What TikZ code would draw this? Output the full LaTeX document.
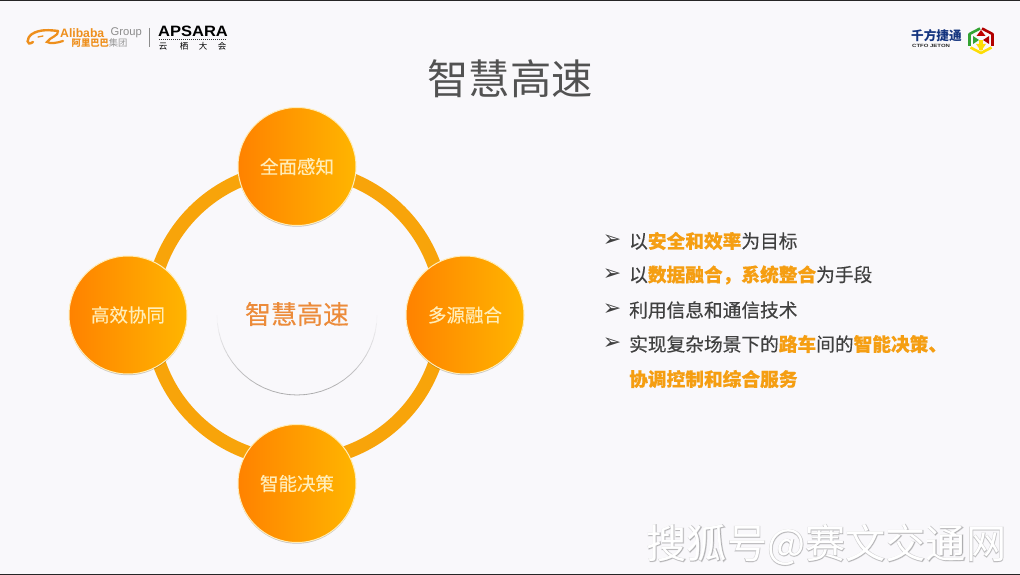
\documentclass[tikz,border=0pt]{standalone}
\usepackage{fontspec}
\setmainfont{Liberation Sans}
\newfontfamily\cjk{Noto Sans CJK SC}
\newfontfamily\cjkm[FakeBold=0.35]{Noto Sans CJK SC}
\newfontfamily\cjkhalo[FakeBold=3]{Noto Sans CJK SC}
\newfontfamily\djv{DejaVu Sans}
\usetikzlibrary{shadows}
\definecolor{bgc}{HTML}{F9F8FB}
\definecolor{ringc}{HTML}{F8A40A}
\definecolor{orangeL}{HTML}{FF8200}
\definecolor{orangeM}{HTML}{FF9C00}
\definecolor{orangeR}{HTML}{FFB500}
\definecolor{labc}{HTML}{FFEDB8}
\definecolor{hl}{HTML}{F59E12}
\definecolor{txt}{HTML}{404040}
\definecolor{navyc}{HTML}{15357F}
\definecolor{alic}{HTML}{EE8F1C}
\definecolor{centc}{HTML}{EC8B3A}
\newcommand{\hlt}[1]{\textcolor{hl}{\textbf{#1}}}
\tikzset{
  ball/.style={circle,minimum size=118pt,inner sep=0pt,left color=orangeL,middle color=orangeM,right color=orangeR,
    draw=labc,line width=1pt,text=labc,font=\cjkm\fontsize{18.5}{18.5}\selectfont,
    drop shadow={shadow xshift=0pt,shadow yshift=-1.2pt,fill=black,opacity=0.22}},
  item/.style={anchor=west,inner sep=0pt,text=txt,font=\cjkm\fontsize{18.7}{18.7}\selectfont},
  tick/.style={anchor=center,inner sep=0pt,text=txt,font=\djv\fontsize{22}{22}\selectfont},
  plain/.style={inner sep=0pt},
  wm/.style={inner sep=0pt}
}
\begin{document}
\begin{tikzpicture}[x=1pt,y=-1pt]
\useasboundingbox (0,0) rectangle (1020,575);
\fill[bgc] (0,0) rectangle (1020,575);
\fill[black!85] (0,0) rectangle (1020,1.5);
\fill[black!85] (0,573.5) rectangle (1020,575);
% Alibaba logo
\draw[alic,line width=2.4pt,line cap=round] (33,42) .. controls (26,47) and (26,38) .. (32,34) .. controls (40,29) and (50,30) .. (58,31);
\draw[alic,line width=2.2pt,line cap=round] (58,31) .. controls (59,36) and (50,37) .. (47,42) .. controls (50,44) and (57,43) .. (63,41);
\draw[alic,line width=1.3pt,line cap=round] (38,37) -- (43,36);
\node[plain,anchor=west,text=alic] (alibaba) at (60,33) {\fontsize{12.2}{12}\selectfont\textbf{Alibaba}};
\node[plain,anchor=west,text=black!45] (group) at (110.5,33) {\fontsize{11.2}{11}\selectfont Group};
\node[plain,anchor=west,text=alic] (alicn) at (71.5,43.5) {\cjk\fontsize{9.3}{10}\selectfont\textbf{阿里巴巴}\textcolor{black!40}{集团}};
\draw[black!45,line width=0.6pt] (149,28) -- (149,47);
\node[plain,anchor=west,text=black] (apsara) at (158,31.5) {\scalebox{1.1}[1]{\fontsize{15}{15}\selectfont\textbf{APSARA}}};
\draw[black!80,line width=0.7pt,dash pattern=on 1pt off 1pt] (159,39.5) -- (226,39.5);
\node[plain,text=black] (yun) at (163,46.5) {\cjk\fontsize{8.5}{9}\selectfont 云};
\node[plain,text=black] (qi) at (184,46.5) {\cjk\fontsize{8.5}{9}\selectfont 栖};
\node[plain,text=black] (da) at (203,46.5) {\cjk\fontsize{8.5}{9}\selectfont 大};
\node[plain,text=black] (hui) at (222,46.5) {\cjk\fontsize{8.5}{9}\selectfont 会};
% CTFO logo
\node[plain,anchor=west,text=navyc] (qf) at (911,36) {\cjk\fontsize{12.6}{13}\selectfont\textbf{千方捷通}};
\node[plain,anchor=west,text=black!85] (ctfo) at (912,45.5) {\scalebox{1.3}[1]{\fontsize{4.6}{5}\selectfont\textbf{CTFO JETON}}};
\draw[green!55!black!80,line width=2.6pt,line join=round] (980,28.5) -- (969.5,34) -- (969.5,46);
\draw[red!70!black,line width=2.6pt,line join=round] (982,28.5) -- (992.5,34) -- (992.5,46);
\draw[yellow!80!orange,line width=2.6pt,line join=round] (970.5,47.5) -- (981,53) -- (991.5,47.5);
\fill[red!75!black] (976.5,36) -- (985.5,36) -- (981,30) -- cycle;
\fill[yellow!80!orange] (979,40) rectangle (983,50);
\fill[yellow!80!orange] (976,44) -- (986,44) -- (981,51) -- cycle;
\fill[green!55!black!80] (973,36) -- (979,40) -- (973,44) -- cycle;
\fill[red!70!black] (989,36) -- (983,40) -- (989,44) -- cycle;
% title
\node[plain,text=black!68] (title) at (510,79) {\cjk\fontsize{41.3}{41.3}\selectfont 智慧高速};
% ring
\draw[ringc,line width=13.5pt] (297,315) circle[radius=146pt];
% centre disc
\foreach \a in {0,6,...,174}{
  \pgfmathsetmacro{\b}{\a+6}
  \pgfmathsetmacro{\op}{0.7*sin(\a+3)}
  \draw[black!45,opacity=\op,line width=0.8pt] ({297+80*cos(\a)},{315+80*sin(\a)}) -- ({297+80*cos(\b)},{315+80*sin(\b)});
}
\node[plain,text=centc] (centre) at (297,314) {\cjkm\fontsize{26}{26}\selectfont 智慧高速};
% balls
\node[ball] (top) at (297,166.5) {全面感知};
\node[ball] (left) at (128,315) {高效协同};
\node[ball] (right) at (465,315) {多源融合};
\node[ball] (bottom) at (297,483.5) {智能决策};
% list
\node[tick] (t1) at (612,241) {➢};
\node[tick] (t2) at (612,275) {➢};
\node[tick] (t3) at (612,310) {➢};
\node[tick] (t4) at (612,344) {➢};
\node[item] (l1) at (629,241) {以\hlt{安全和效率}为目标};
\node[item] (l2) at (629,275) {以\hlt{数据融合，系统整合}为手段};
\node[item] (l3) at (629,310) {利用信息和通信技术};
\node[item] (l4) at (629,344) {实现复杂场景下的\hlt{路车}间的\hlt{智能决策、}};
\node[item] (l5) at (629,379) {\hlt{协调控制和综合服务}};
% watermark
\node[wm,text=black,opacity=0.16] (halo) at (826.5,545) {\cjkhalo\fontsize{40.2}{40}\selectfont 搜狐号@赛文交通网};
\node[wm,text=white] (mark) at (826.5,545) {\cjk\fontsize{40.2}{40}\selectfont 搜狐号@赛文交通网};
\end{tikzpicture}
\end{document}
